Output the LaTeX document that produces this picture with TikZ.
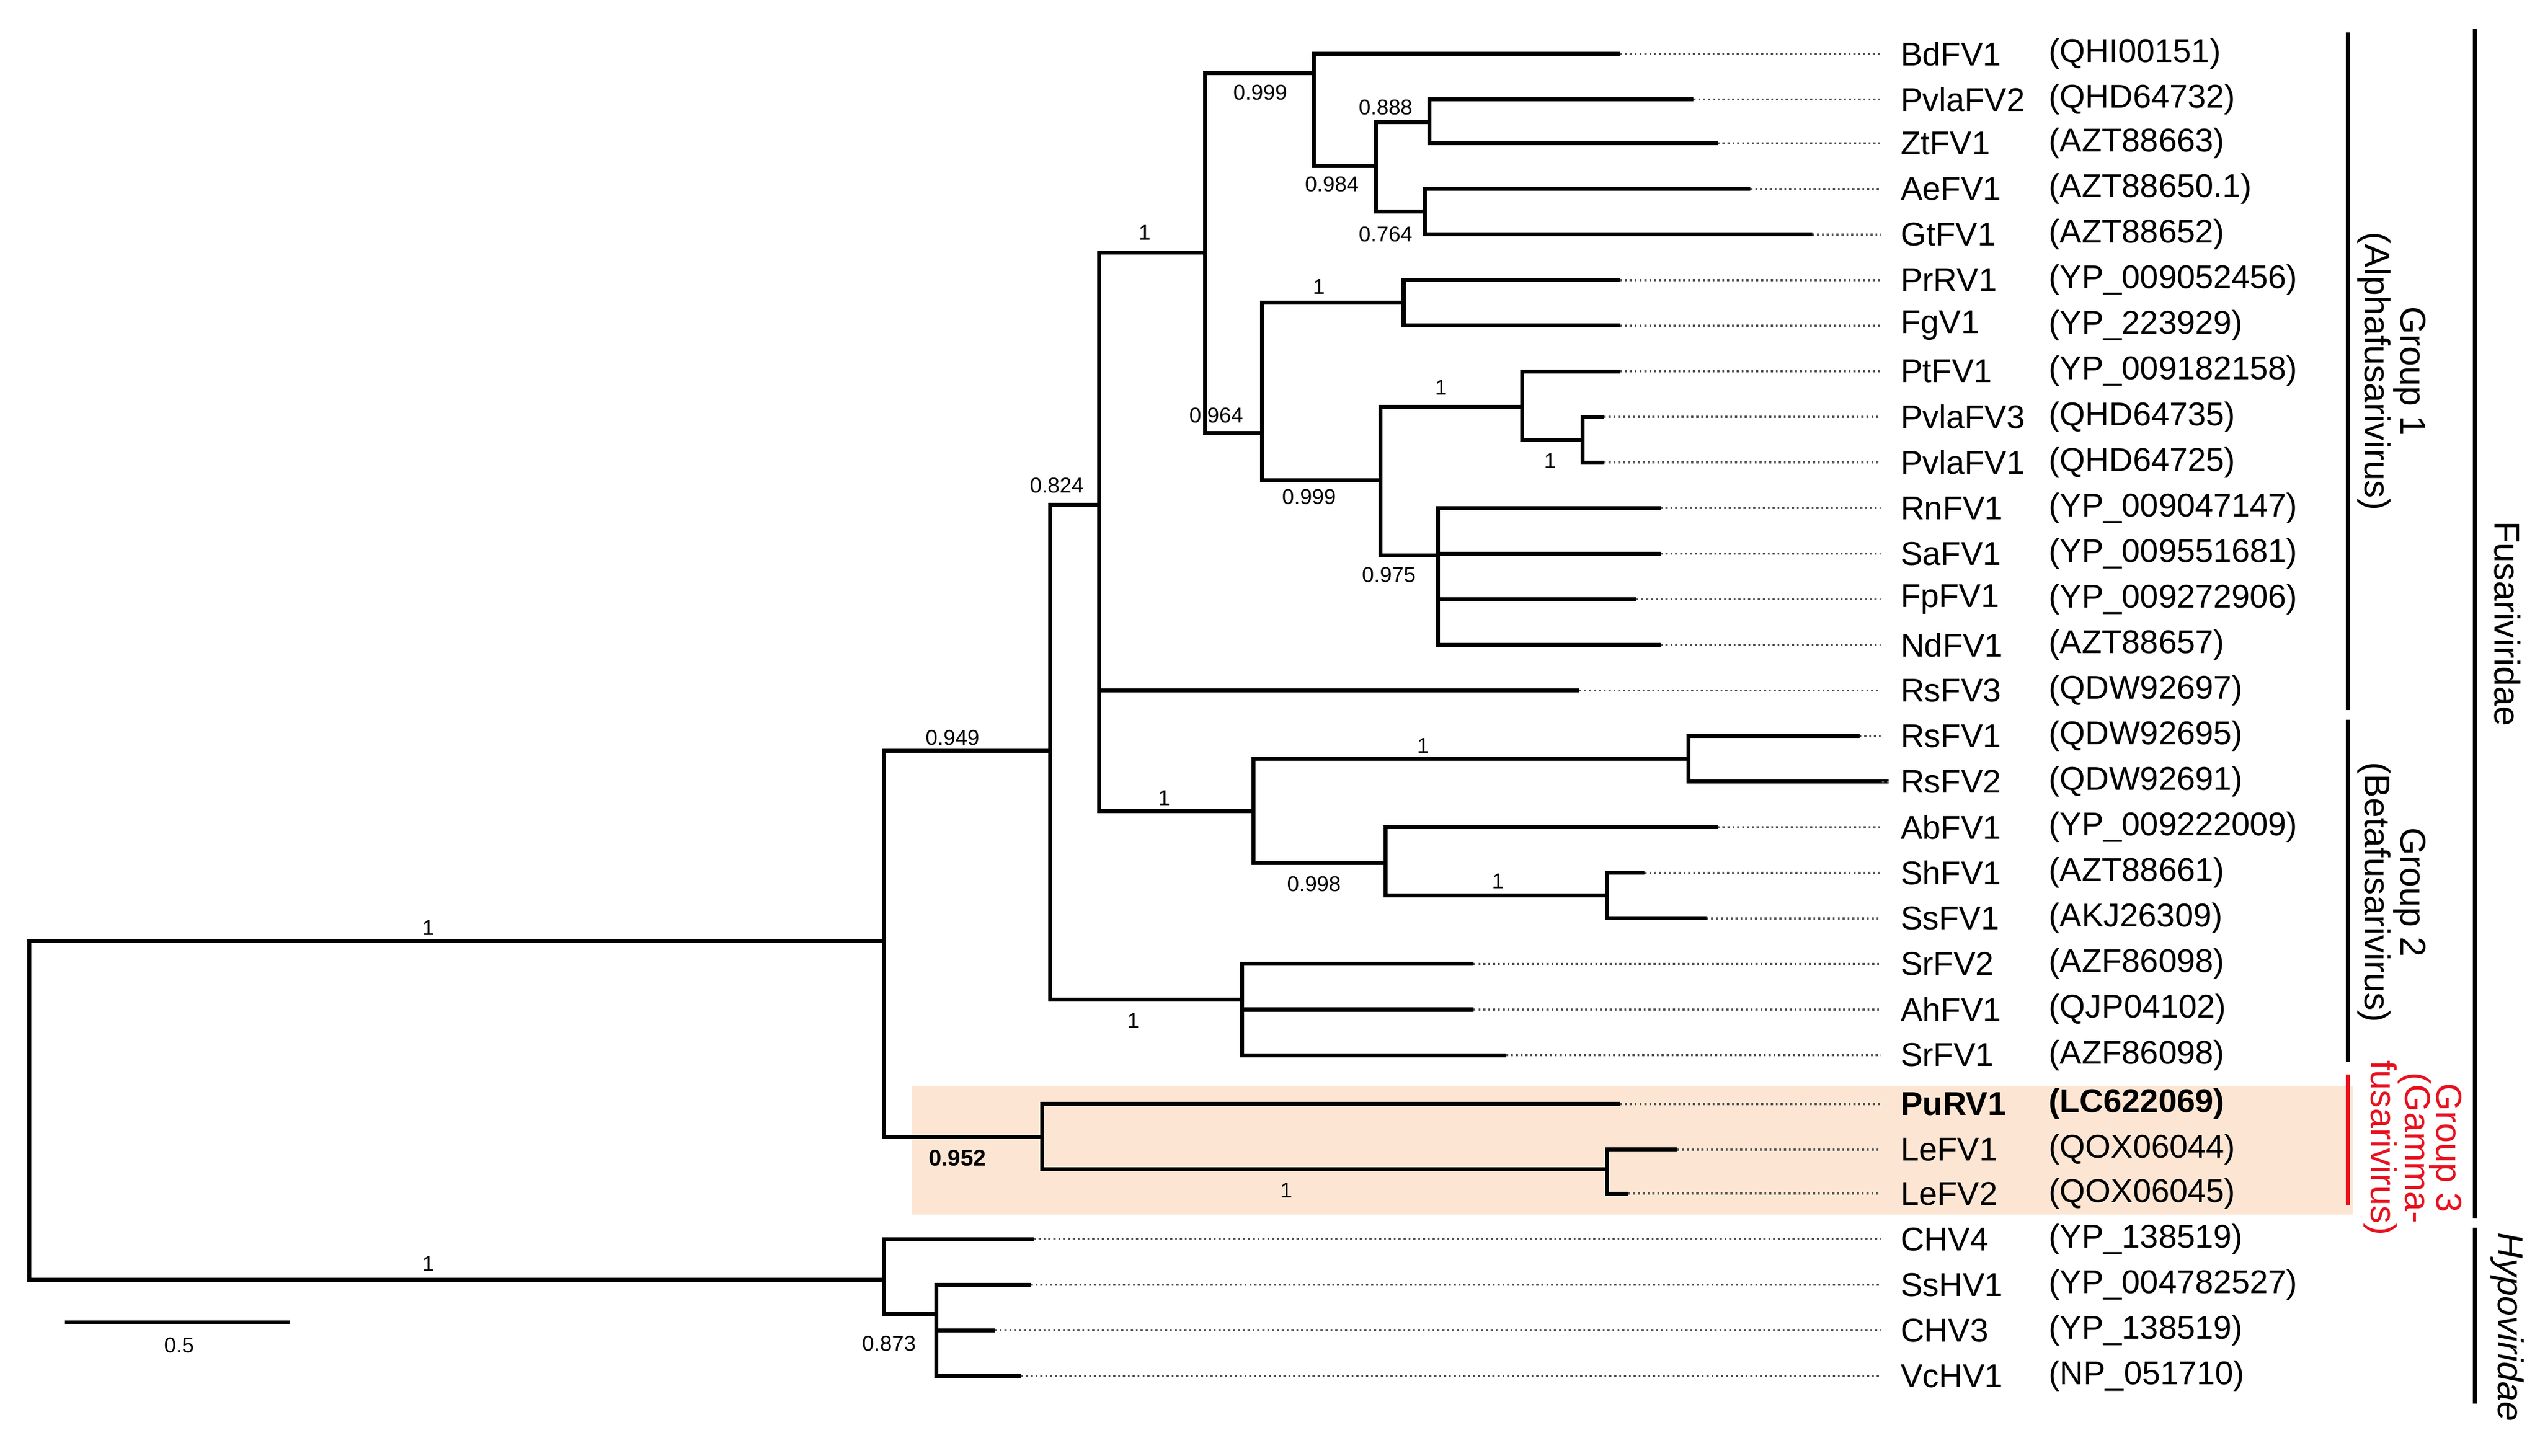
\documentclass[tikz,border=0pt]{standalone}
\usepackage{fontspec}
\setmainfont{Liberation Sans}
\definecolor{hl}{HTML}{FCE6D3}
\definecolor{grp}{HTML}{E8101E}
\begin{document}
\begin{tikzpicture}[x=0.02cm,y=-0.02cm,
  br/.style={line width=1.4pt},
  dot/.style={densely dotted,line width=0.7pt,gray!70!black},
  tip/.style={anchor=west,inner sep=0pt,font=\fontsize{11.5}{13}\selectfont},
  sup/.style={inner sep=0pt,font=\fontsize{7.5}{9}\selectfont},
  grl/.style={rotate=-90,inner sep=0pt,font=\fontsize{12.5}{14}\selectfont},
  bk/.style={line width=1.4pt}]
\useasboundingbox (0,0) rectangle (1560,894);
\fill[hl] (560,667) rectangle (1445,746);
% internal nodes
\coordinate (R) at (18,682);
\coordinate (A) at (543,578);
\coordinate (B) at (645,461);
\coordinate (C) at (675,310);
\coordinate (D) at (740,155);
\coordinate (E) at (807,45);
\coordinate (F) at (845,102);
\coordinate (G) at (878,75);
\coordinate (H) at (875,130);
\coordinate (I) at (775,266);
\coordinate (J) at (862,186);
\coordinate (K) at (848,295);
\coordinate (L) at (935,250);
\coordinate (M) at (972,270);
\coordinate (N) at (883,341);
\coordinate (O) at (770,498);
\coordinate (P) at (1037,466);
\coordinate (Q) at (851,530);
\coordinate (S) at (987,550);
\coordinate (T) at (763,614);
\coordinate (U) at (640,698);
\coordinate (V) at (987,718);
\coordinate (W) at (543,786);
\coordinate (X) at (575,807);
\foreach \p/\c in {R/A,R/W,A/B,A/U,B/C,B/T,C/D,C/O,D/E,D/I,E/F,F/G,F/H,I/J,I/K,K/L,K/N,L/M,O/P,O/Q,Q/S,U/V,W/X}
  \draw[br] (\p) |- (\c);
% tips
\foreach \n/\a/\y/\x/\p in {
 BdFV1/QHI00151/33/995/E, PvlaFV2/QHD64732/61/1040/G, ZtFV1/AZT88663/88/1055/G,
 AeFV1/AZT88650.1/116/1075/H, GtFV1/AZT88652/144/1113/H, PrRV1/YP\_009052456/172/995/J,
 FgV1/YP\_223929/200/995/J, PtFV1/YP\_009182158/228/995/L, PvlaFV3/QHD64735/256/985/M,
 PvlaFV1/QHD64725/284/985/M, RnFV1/YP\_009047147/312/1020/N, SaFV1/YP\_009551681/340/1020/N,
 FpFV1/YP\_009272906/368/1005/N, NdFV1/AZT88657/396/1020/N, RsFV3/QDW92697/424/970/C,
 RsFV1/QDW92695/452/1142/P, RsFV2/QDW92691/480/1160/P, AbFV1/YP\_009222009/508/1055/Q,
 ShFV1/AZT88661/536/1010/S, SsFV1/AKJ26309/564/1048/S, SrFV2/AZF86098/592/905/T,
 AhFV1/QJP04102/620/905/T, SrFV1/AZF86098/648/925/T,
 LeFV1/QOX06044/706/1030/V, LeFV2/QOX06045/733/1000/V,
 CHV4/YP\_138519/761/635/W, SsHV1/YP\_004782527/789/633/X, CHV3/YP\_138519/817/611/X,
 VcHV1/NP\_051710/845/627/X}{
  \coordinate (t\n) at (\x,\y);
  \node[tip] (n\n) at (1167,\y) {\n};
  \node[tip] (a\n) at (1258,\y) {(\a)};
  \draw[br] (\p) |- (t\n);
  \draw[dot] (t\n) -- (1155,\y);
}
\coordinate (tPuRV1) at (995,678);
\node[tip,font=\fontsize{11.5}{13}\selectfont\bfseries] (nPuRV1) at (1167,678) {PuRV1};
\node[tip,font=\fontsize{11.5}{13}\selectfont\bfseries] (aPuRV1) at (1258,678) {(LC622069)};
\draw[br] (U) |- (tPuRV1);
\draw[dot] (tPuRV1) -- (1155,678);
% support values
\node[sup] at (263,570) {1};
\node[sup] at (263,776) {1};
\node[sup] at (585,453) {0.949};
\node[sup] at (649,298) {0.824};
\node[sup] at (703,143) {1};
\node[sup] at (774,57) {0.999};
\node[sup] at (851,66) {0.888};
\node[sup] at (818,113) {0.984};
\node[sup] at (851,144) {0.764};
\node[sup] at (810,176) {1};
\node[sup] at (747,255) {0.964};
\node[sup] at (885,238) {1};
\node[sup] at (952,283) {1};
\node[sup] at (804,305) {0.999};
\node[sup] at (853,353) {0.975};
\node[sup] at (874,458) {1};
\node[sup] at (715,490) {1};
\node[sup] at (807,543) {0.998};
\node[sup] at (920,541) {1};
\node[sup] at (696,627) {1};
\node[sup,font=\fontsize{8}{9}\selectfont\bfseries] at (588,711) {0.952};
\node[sup] at (790,731) {1};
\node[sup] at (546,825) {0.873};
% scale bar
\coordinate (sb1) at (40,812); \coordinate (sb2) at (178,812);
\draw[line width=1.1pt] (sb1) -- (sb2);
\node[sup] at (110,826) {0.5};
% brackets
\draw[bk] (1442,20) -- (1442,436);
\draw[bk] (1442,442) -- (1442,652);
\draw[bk,grp] (1442,660) -- (1442,740);
\draw[bk] (1520,18) -- (1520,748);
\draw[bk] (1520,754) -- (1520,862);
\node[grl] at (1480,228) {Group 1};
\node[grl] at (1458,228) {(Alphafusarivirus)};
\node[grl] at (1480,548) {Group 2};
\node[grl] at (1458,548) {(Betafusarivirus)};
\node[grl,text=grp] at (1502,705) {Group 3};
\node[grl,text=grp] at (1483,705) {(Gamma-};
\node[grl,text=grp] at (1462,705) {fusarivirus)};
\node[grl] at (1540,383) {Fusariviridae};
\node[grl,font=\fontsize{12.5}{14}\selectfont\itshape] at (1540,815) {Hypoviridae};
\end{tikzpicture}
\end{document}
